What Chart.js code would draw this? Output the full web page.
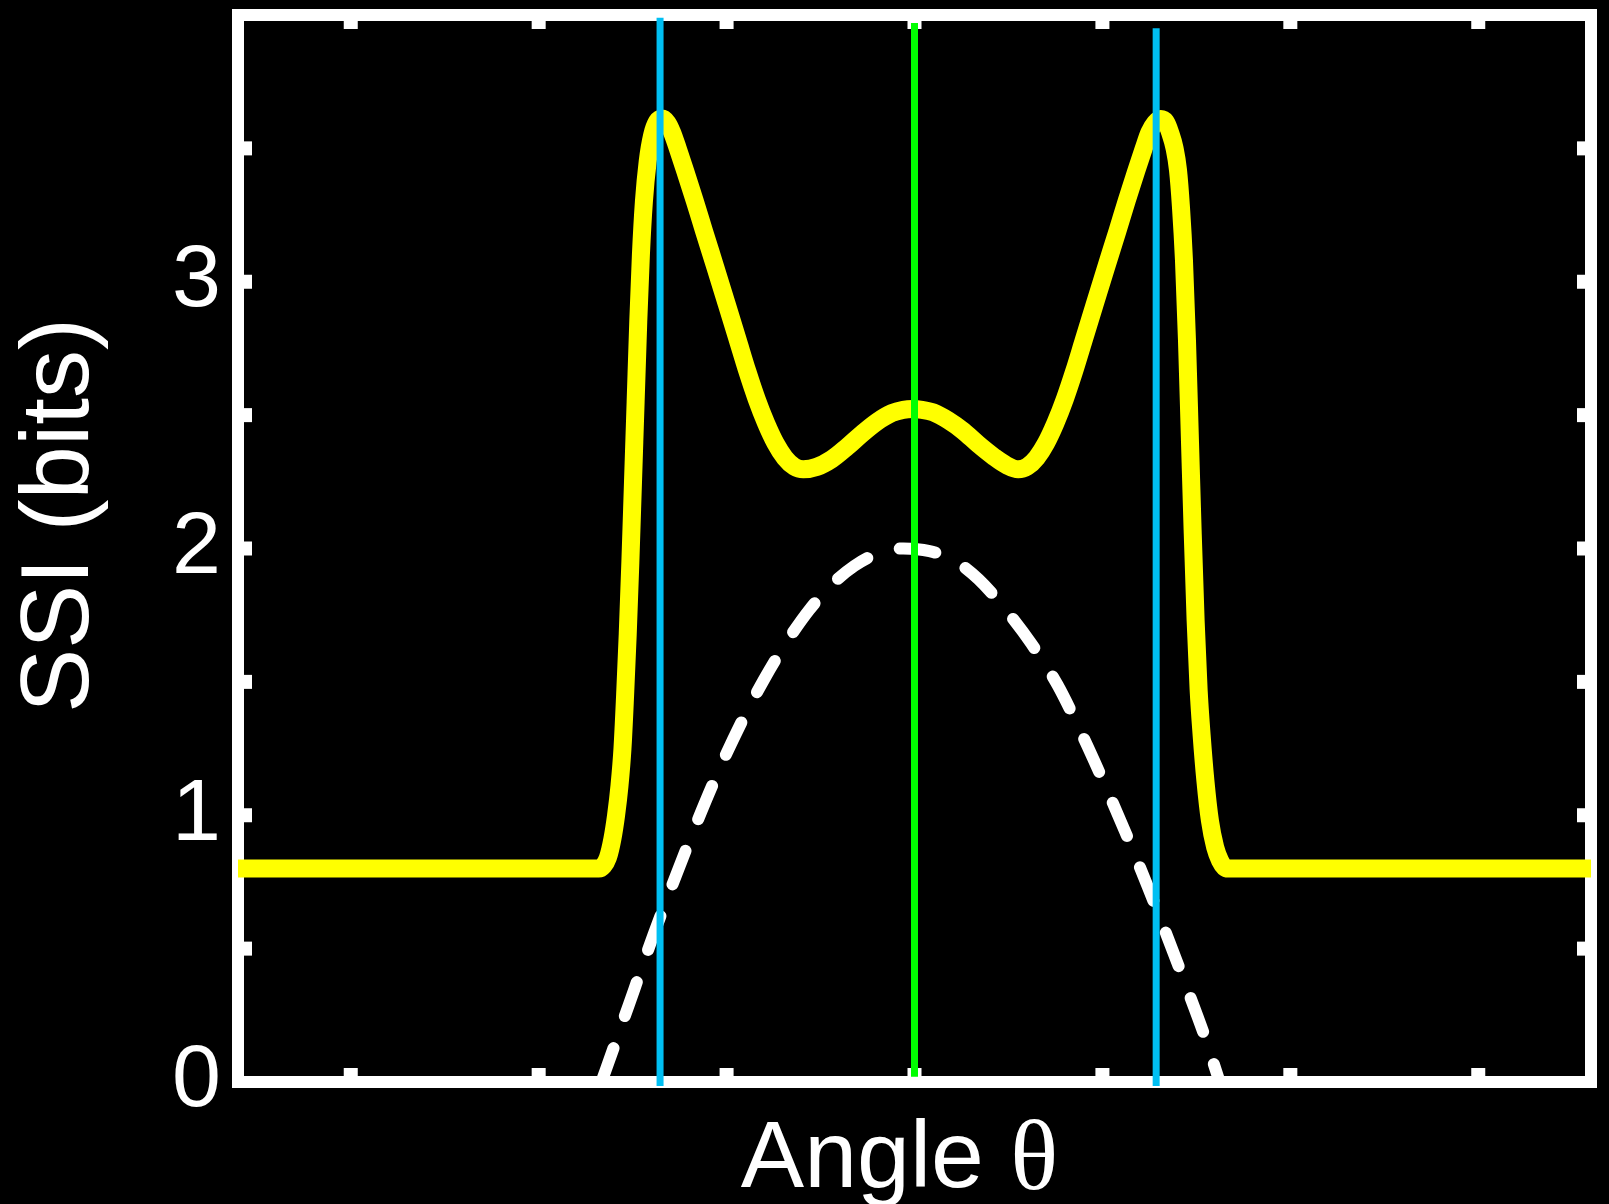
<!DOCTYPE html>
<html>
<head>
<meta charset="utf-8">
<script src="https://cdn.jsdelivr.net/npm/chart.js@4"></script>
<style>
  html, body { margin: 0; padding: 0; background: #000; overflow: hidden; }
  canvas { display: block; }
</style>
</head>
<body>
<canvas id="ssiChart" width="1609" height="1204"></canvas>
<script>
// axis ticks
var angleTicks = [-150, -100, -50, 0, 50, 100, 150];
var ssiTickMarks = [0.5, 1, 1.5, 2, 2.5, 3, 3.5];
var ssiTickLabels = [0, 1, 2, 3];

// SSI curve (yellow)
var ssiAngles = [-180, -84, -82.8, -81.6, -80.4, -79.4, -78.5, -77.7, -77, -76.3, -75.6, -74.9,
  -74.2, -73.5, -72.8, -72, -71, -69.8, -68.5, -67.2, -65.7, -64.5, -63, -61, -58.5, -56, -53,
  -50, -47, -44.5, -42, -39.5, -37, -34.5, -32, -29.6, -26, -22, -18, -14, -10, -6, -3, -0.5,
  2, 5, 9, 13, 17, 21, 24.5, 27.6, 30, 32.5, 35, 37.5, 40, 42.5, 45, 48, 51, 54, 56.5, 59, 61,
  62.5, 64, 65.5, 66.8, 68, 69.2, 70.1, 70.9, 71.7, 72.5, 73.3, 74, 74.8, 75.6, 76.4, 77.4,
  78.6, 80, 81.3, 82.5, 83.5, 180];
var ssiValues = [0.80, 0.80, 0.81, 0.84, 0.91, 1.00, 1.11, 1.25, 1.45, 1.68, 1.95, 2.25,
  2.55, 2.85, 3.10, 3.30, 3.45, 3.55, 3.60, 3.612, 3.595, 3.56, 3.50, 3.415, 3.305, 3.19, 3.055,
  2.918, 2.78, 2.665, 2.56, 2.47, 2.395, 2.34, 2.307, 2.297, 2.306, 2.335, 2.38, 2.43, 2.475, 2.508, 2.52, 2.523,
  2.52, 2.51, 2.48, 2.44, 2.39, 2.345, 2.312, 2.297, 2.307, 2.34, 2.395, 2.47, 2.56, 2.665, 2.78, 2.918, 3.055, 3.19, 3.305, 3.415, 3.50,
  3.56, 3.595, 3.61, 3.60, 3.56, 3.50, 3.42, 3.28, 3.08, 2.78, 2.40, 2.07, 1.73, 1.47, 1.30, 1.13,
  0.98, 0.88, 0.83, 0.805, 0.80, 0.80];

// tuning curve (white dashed)
var tuningAngles = [-83.3, -79, -74.5, -69.5, -64, -58, -52, -46, -40, -34, -28, -22, -16,
  -10, -3, 4, 10, 17, 24, 31, 38, 44, 50, 56, 62, 67, 72, 77, 81.2];
var tuningValues = [0, 0.17, 0.35, 0.55, 0.755, 0.97, 1.17, 1.35, 1.51, 1.65, 1.77, 1.865, 1.935,
  1.98, 2.0, 1.99, 1.96, 1.885, 1.775, 1.645, 1.49, 1.32, 1.135, 0.94, 0.735, 0.555, 0.37, 0.18, 0];

// vertical markers
var blueAngles = [-67.7, 64.3];
var blueTops = [3.99, 3.95];
var greenAngle = 0;
var greenTop = 3.97;

function pts(xs, ys) {
  return xs.map(function (x, i) { return {x: x, y: ys[i]}; });
}

var frame = {
  id: 'frame',
  beforeDraw: function (chart) {
    var ctx = chart.ctx;
    ctx.save();
    ctx.fillStyle = '#000';
    ctx.fillRect(0, 0, chart.width, chart.height);
    ctx.restore();
  },
  beforeDatasetsDraw: function (chart) {
    var ctx = chart.ctx, a = chart.chartArea, x = chart.scales.x, y = chart.scales.y;
    ctx.save();
    ctx.strokeStyle = '#fff';
    ctx.lineWidth = 12;
    ctx.strokeRect(a.left, a.top, a.right - a.left, a.bottom - a.top);
    ctx.fillStyle = '#fff';
    angleTicks.forEach(function (t) {
      var px = x.getPixelForValue(t);
      ctx.fillRect(px - 7, a.top, 14, 14);
      ctx.fillRect(px - 7, a.bottom - 14, 14, 14);
    });
    ssiTickMarks.forEach(function (t) {
      var py = y.getPixelForValue(t);
      ctx.fillRect(a.left, py - 7, 14, 14);
      ctx.fillRect(a.right - 14, py - 7, 14, 14);
    });

    // axis titles
    ctx.fillStyle = '#fff';
    ctx.textBaseline = 'alphabetic';
    ctx.textAlign = 'left';
    var sans = '95px "Liberation Sans", Arial, Helvetica, sans-serif';
    var serif = '100px "Liberation Serif", "Times New Roman", serif';
    ctx.font = sans;
    var w1 = ctx.measureText('Angle ').width;
    ctx.font = serif;
    var w2 = ctx.measureText('\u03B8').width;
    var cx = (a.left + a.right) / 2 - 15;
    var x0 = cx - (w1 + w2) / 2;
    ctx.font = sans;
    ctx.fillText('Angle ', x0, 1187);
    ctx.font = serif;
    ctx.fillText('\u03B8', x0 + w1, 1189);

    ctx.font = '96px "Liberation Sans", Arial, Helvetica, sans-serif';
    var w3 = ctx.measureText('SSI (bits)').width;
    var cy = (a.top + a.bottom) / 2 - 33;
    ctx.translate(88, cy + w3 / 2);
    ctx.rotate(-Math.PI / 2);
    ctx.fillText('SSI (bits)', 0, 0);
    ctx.restore();
  }
};

new Chart('ssiChart', {
  type: 'line',
  data: {
    datasets: [{
      label: 'center',
      data: [{x: greenAngle, y: 0.02}, {x: greenAngle, y: greenTop}],
      borderColor: '#00ff00',
      borderWidth: 7,
      pointRadius: 0,
      clip: false
    }, {
      label: 'flank left',
      data: [{x: blueAngles[0], y: -0.015}, {x: blueAngles[0], y: blueTops[0]}],
      borderColor: '#00bff3',
      borderWidth: 7,
      pointRadius: 0,
      clip: false
    }, {
      label: 'flank right',
      data: [{x: blueAngles[1], y: -0.015}, {x: blueAngles[1], y: blueTops[1]}],
      borderColor: '#00bff3',
      borderWidth: 7,
      pointRadius: 0,
      clip: false
    }, {
      label: 'tuning curve',
      data: pts(tuningAngles, tuningValues),
      borderColor: '#ffffff',
      borderWidth: 12,
      borderDash: [36, 34],
      borderCapStyle: 'round',
      cubicInterpolationMode: 'monotone',
      pointRadius: 0
    }, {
      label: 'SSI',
      data: pts(ssiAngles, ssiValues),
      borderColor: '#ffff00',
      borderWidth: 18,
      borderJoinStyle: 'round',
      cubicInterpolationMode: 'monotone',
      pointRadius: 0
    }]
  },
  options: {
    responsive: false,
    animation: false,
    devicePixelRatio: 1,
    layout: {padding: {left: 0, top: 15, right: 18, bottom: 0}},
    plugins: {legend: {display: false}, tooltip: {enabled: false}},
    scales: {
      x: {
        type: 'linear',
        min: -180,
        max: 180,
        grid: {display: false, drawTicks: false},
        border: {display: false},
        ticks: {display: false},
        afterFit: function (s) {
          s.height = 122;
          s.paddingLeft = 0;
          s.paddingRight = 0;
        }
      },
      y: {
        min: 0,
        max: 4,
        grid: {display: false, drawTicks: false},
        border: {display: false},
        ticks: {
          color: '#fff',
          padding: 17,
          font: {family: '"Liberation Sans", Arial, Helvetica, sans-serif', size: 88}
        },
        afterBuildTicks: function (s) {
          s.ticks = ssiTickLabels.map(function (v) { return {value: v}; });
        },
        afterFit: function (s) {
          s.width = 238;
          s.paddingTop = 0;
          s.paddingBottom = 0;
        }
      }
    }
  },
  plugins: [frame]
});
</script>
</body>
</html>
